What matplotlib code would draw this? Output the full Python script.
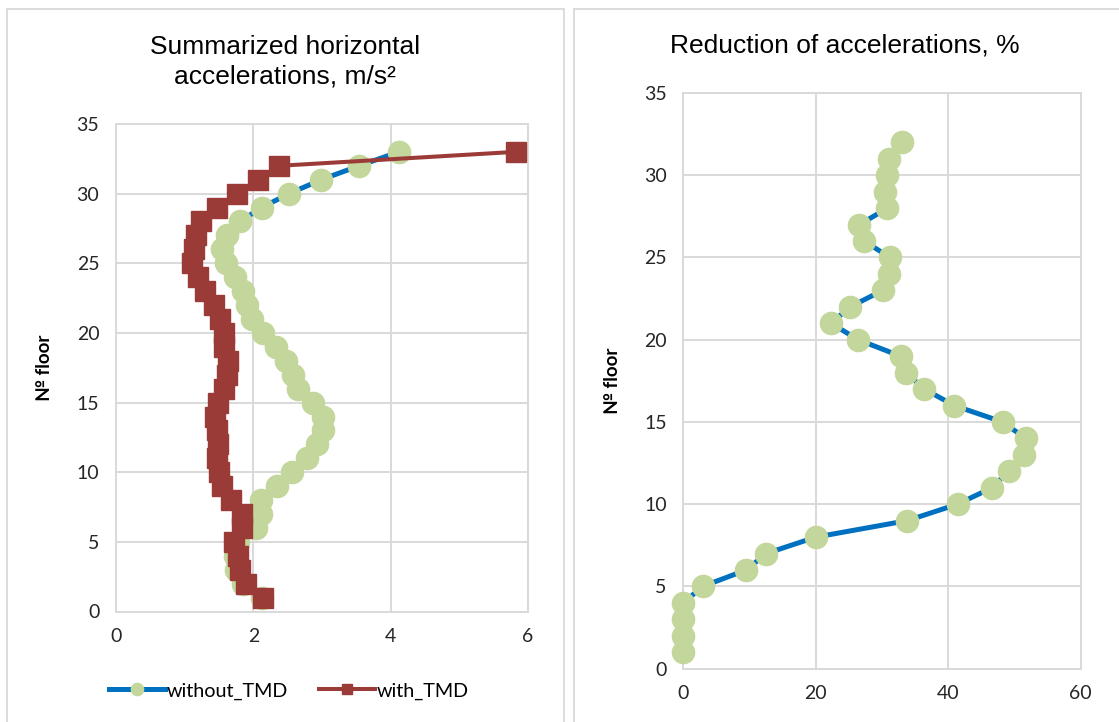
import matplotlib
matplotlib.use("Agg")
import matplotlib.pyplot as plt
from matplotlib.patches import Rectangle

# floors 1..33
floors = list(range(1, 34))
without_tmd = [2.13, 1.85, 1.75, 1.73, 1.78, 2.04, 2.11, 2.11, 2.34, 2.57,
               2.78, 2.93, 3.02, 3.01, 2.87, 2.65, 2.58, 2.47, 2.33, 2.14,
               1.98, 1.91, 1.85, 1.74, 1.60, 1.55, 1.61, 1.80, 2.12, 2.52,
               2.99, 3.54, 4.12]
with_tmd = [2.14, 1.89, 1.80, 1.78, 1.72, 1.84, 1.84, 1.67, 1.54, 1.50,
            1.47, 1.49, 1.47, 1.44, 1.49, 1.57, 1.62, 1.63, 1.57, 1.57,
            1.52, 1.43, 1.30, 1.19, 1.10, 1.13, 1.17, 1.24, 1.47, 1.76,
            2.07, 2.38, 5.82]

# floors 1..32
red_floors = list(range(1, 33))
reduction = [0, 0, 0, 0, 2.9, 9.5, 12.5, 20.0, 33.8, 41.4,
             46.6, 49.1, 51.5, 51.7, 48.2, 40.9, 36.4, 33.6, 32.8, 26.4,
             22.3, 25.2, 30.1, 31.1, 31.2, 27.3, 26.6, 30.8, 30.5, 30.7,
             31.0, 33.0]

BLUE = "#0070C0"
GREEN = "#C3D69B"
RED = "#9A3B38"
GRID = "#D9D9D9"
TXT = "#262626"

fig = plt.figure(figsize=(11.19, 7.22), dpi=100)

# chart frames
for x0, x1 in [(7, 563.5), (574, 1125)]:
    fig.patches.append(Rectangle((x0 / 1119, -0.05), (x1 - x0) / 1119, 1.05 - 9.5 / 722,
                                 transform=fig.transFigure, fill=False,
                                 edgecolor="#D9D9D9", linewidth=1.3))


def style(ax, xmax, xstep, ymax):
    ax.set_xlim(0, xmax)
    ax.set_ylim(0, ymax)
    ax.set_xticks(range(0, xmax + 1, xstep))
    ax.set_yticks(range(0, ymax + 1, 5))
    ax.grid(True, color=GRID, linewidth=1.4)
    ax.set_axisbelow(True)
    for s in ax.spines.values():
        s.set_color(GRID)
        s.set_linewidth(1.4)
    ax.tick_params(length=0, labelsize=14, colors=TXT)
    ax.tick_params(axis="x", pad=12)
    ax.tick_params(axis="y", pad=12)
    for lab in ax.get_xticklabels() + ax.get_yticklabels():
        lab.set_family("Lato")
    ax.set_ylabel("№ floor", fontsize=13.5, fontweight="bold", family="Lato",
                  color="black")


ax1 = fig.add_axes([116 / 1119, 1 - 611.5 / 722, 412 / 1119, 487.5 / 722])
ax1.plot(without_tmd, floors, color=BLUE, linewidth=3.6, marker="o",
         markersize=16, markerfacecolor=GREEN, markeredgecolor=GREEN,
         label="without_TMD", zorder=3)
ax1.plot(with_tmd, floors, color=RED, linewidth=2.9, marker="s",
         markersize=14, markerfacecolor=RED, markeredgecolor=RED,
         label="with_TMD", zorder=4)
style(ax1, 6, 2, 35)
ax1.yaxis.set_label_coords(-63 / 412, 0.5)
fig.text(285 / 1119, 1 - 62 / 722, "Summarized horizontal\naccelerations, m/s²",
         ha="center", va="center", fontsize=19, family="Liberation Sans",
         linespacing=1.3, color="black")
ax1.legend(loc="center", bbox_to_anchor=(0.42, -0.163), ncol=2, frameon=False,
           prop={"family": "Lato", "size": 14.2}, handlelength=2.8,
           columnspacing=1.6, handletextpad=0.1, markerscale=0.55,
           labelcolor="black")

ax2 = fig.add_axes([683.3 / 1119, 1 - 668.7 / 722, 397.4 / 1119, 575.7 / 722])
ax2.plot(reduction, red_floors, color=BLUE, linewidth=3.6, marker="o",
         markersize=16, markerfacecolor=GREEN, markeredgecolor=GREEN,
         zorder=3, clip_on=False)
style(ax2, 60, 20, 35)
ax2.yaxis.set_label_coords(-62 / 397.4, 0.5)
fig.text(845 / 1119, 1 - 46 / 722, "Reduction of accelerations, %",
         ha="center", va="center", fontsize=19, family="Liberation Sans",
         color="black")

fig.savefig("out.png", dpi=100)
